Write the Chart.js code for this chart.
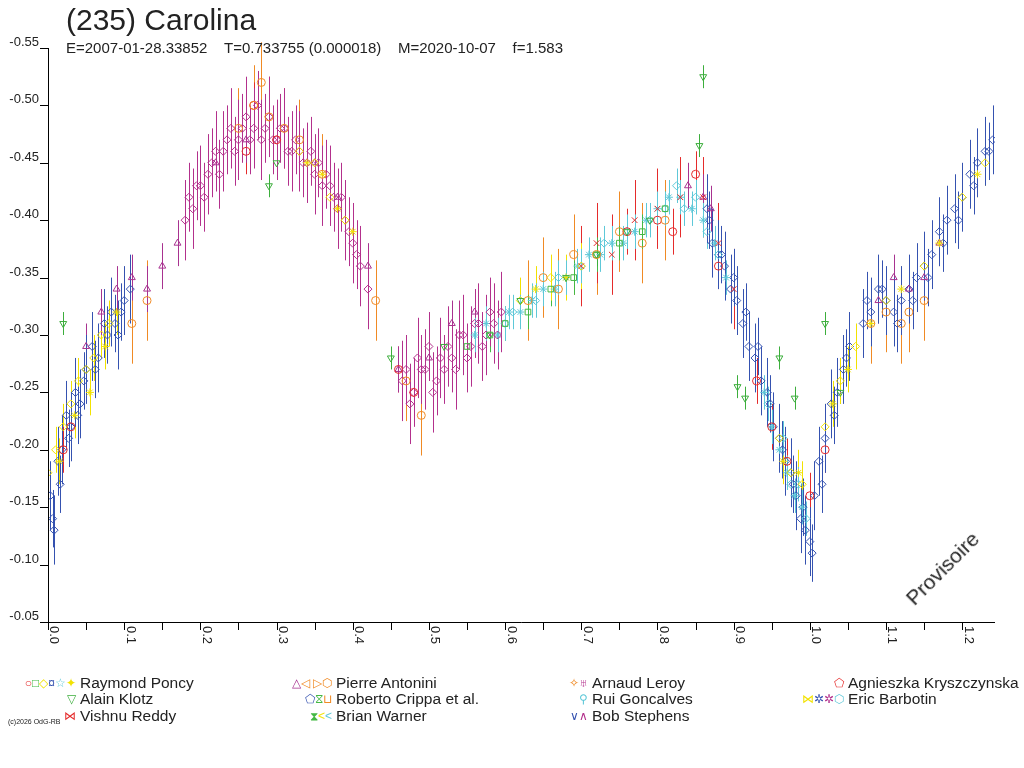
<!DOCTYPE html>
<html><head><meta charset="utf-8">
<script src="https://cdn.jsdelivr.net/npm/chart.js@4/dist/chart.umd.min.js"></script>
<style>
  body { margin:0; background:#fff; font-family:"Liberation Sans",Arial,sans-serif; color:#222; }
  #wrap { position:relative; width:1024px; height:768px; }
  #c { position:absolute; left:0; top:0; }
  .t { position:absolute; white-space:nowrap; }
  .lg { position:absolute; font-size:15.5px; white-space:nowrap; }
  .sym { position:absolute; font-size:12px; white-space:nowrap; text-align:right; }
</style></head>
<body><div id="wrap">
<canvas id="c" width="1024" height="768"></canvas>
<div class="t" style="left:66px;top:3px;font-size:30px">(235) Carolina</div>
<div class="t" style="left:66px;top:39px;font-size:15px">E=2007-01-28.33852&nbsp;&nbsp;&nbsp;&nbsp;T=0.733755 (0.000018)&nbsp;&nbsp;&nbsp;&nbsp;M=2020-10-07&nbsp;&nbsp;&nbsp;&nbsp;f=1.583</div>
<div class="t" style="left:918px;top:586px;font-size:21px;transform:rotate(-45deg);transform-origin:left bottom">Provisoire</div>
<div id="legend"></div>
<div class="t" style="left:8px;top:718px;font-size:7px">(c)2026 OdG-RB</div>
</div>
<script>
// ── observers: phases, magnitudes ──
const blueX = [0.003,0.008,0.013,0.018,0.024,0.03,0.036,0.042,0.05,0.058,0.066,0.074,0.083,0.092,0.1,0.108,
  0.865,0.872,0.88,0.888,0.896,0.904,0.912,0.92,0.928,0.936,0.944,0.952,0.96,0.968,0.975,0.982,0.988,0.994,1.0,1.006,1.012,1.02,1.028,1.036,1.044,1.052,
  1.07,1.08,1.09,1.1,1.11,1.12,1.13,1.14,1.15,1.16,1.17,1.18,1.19,1.2,1.21,1.22,1.23,1.24];
const blueY = [-0.16,-0.13,-0.19,-0.2,-0.23,-0.22,-0.25,-0.24,-0.27,-0.29,-0.28,-0.31,-0.32,-0.30,-0.33,-0.34,
  -0.41,-0.38,-0.37,-0.36,-0.34,-0.33,-0.31,-0.29,-0.28,-0.26,-0.25,-0.22,-0.21,-0.19,-0.18,-0.16,-0.14,-0.13,-0.12,-0.16,-0.19,-0.21,-0.24,-0.25,-0.27,-0.29,
  -0.31,-0.32,-0.34,-0.33,-0.32,-0.33,-0.34,-0.35,-0.36,-0.37,-0.39,-0.40,-0.41,-0.42,-0.44,-0.45,-0.46,-0.47];
const blue2X = [0.006,0.016,0.027,0.039,0.047,0.062,0.078,0.088,0.096,
  0.868,0.884,0.9,0.916,0.932,0.948,0.964,0.978,0.991,1.003,1.016,1.032,1.048,
  1.075,1.095,1.115,1.135,1.155,1.175,1.195,1.215,1.235];
const blue2Y = [-0.14,-0.17,-0.21,-0.23,-0.26,-0.27,-0.30,-0.31,-0.32,
  -0.40,-0.37,-0.35,-0.32,-0.29,-0.24,-0.20,-0.17,-0.15,-0.11,-0.17,-0.23,-0.28,
  -0.33,-0.34,-0.31,-0.33,-0.35,-0.38,-0.40,-0.43,-0.46];
const magX = [0.18,0.19,0.2,0.21,0.22,0.23,0.24,0.25,0.26,0.27,0.28,0.29,0.3,0.31,0.32,0.33,0.34,0.35,0.36,0.37,0.38,0.39,0.4,0.41,0.42,
  0.465,0.475,0.485,0.495,0.505,0.515,0.525,0.535,0.545,0.555,0.565,0.575,0.585,0.595];
const magY = [-0.40,-0.41,-0.43,-0.44,-0.46,-0.46,-0.48,-0.47,-0.49,-0.48,-0.47,-0.49,-0.47,-0.48,-0.46,-0.46,-0.45,-0.44,-0.43,-0.43,-0.41,-0.40,-0.38,-0.36,-0.34,
  -0.26,-0.24,-0.28,-0.27,-0.25,-0.28,-0.29,-0.27,-0.30,-0.29,-0.31,-0.30,-0.31,-0.32];
const mag2X = [0.185,0.195,0.205,0.215,0.225,0.235,0.245,0.255,0.265,0.275,0.285,0.295,0.305,0.315,0.325,0.335,0.345,0.355,0.365,0.375,0.385,0.395,0.405,
  0.47,0.48,0.49,0.5,0.51,0.52,0.53,0.54,0.55,0.56,0.57,0.58,0.59];
const mag2Y = [-0.42,-0.43,-0.42,-0.45,-0.44,-0.47,-0.46,-0.48,-0.47,-0.50,-0.48,-0.47,-0.48,-0.46,-0.47,-0.45,-0.46,-0.45,-0.44,-0.42,-0.42,-0.39,-0.37,
  -0.27,-0.25,-0.27,-0.29,-0.26,-0.27,-0.28,-0.30,-0.28,-0.31,-0.29,-0.32,-0.30];
const cyanX = [0.56,0.575,0.59,0.605,0.62,0.635,0.65,0.665,0.68,0.695,0.71,0.725,0.74,0.755,0.77,0.785,0.8,0.815,0.83,0.845,0.86,0.875,0.89,
  0.94,0.95,0.96,0.97,0.98,0.99];
const cyanY = [-0.30,-0.31,-0.30,-0.32,-0.32,-0.33,-0.34,-0.34,-0.35,-0.36,-0.37,-0.37,-0.38,-0.38,-0.39,-0.40,-0.41,-0.42,-0.42,-0.41,-0.40,-0.38,-0.35,
  -0.25,-0.22,-0.20,-0.18,-0.16,-0.15];
const cyan2X = [0.6,0.61,0.64,0.67,0.7,0.73,0.76,0.79,0.81,0.825,0.835,0.85,0.865,0.88,0.945,0.965,0.975,0.985,0.995];
const cyan2Y = [-0.31,-0.32,-0.33,-0.35,-0.36,-0.38,-0.39,-0.40,-0.41,-0.43,-0.41,-0.42,-0.39,-0.37,-0.24,-0.21,-0.17,-0.17,-0.14];
const yellowX = [0.0,0.01,0.02,0.03,0.04,0.05,0.06,0.07,0.08,0.33,0.35,0.37,0.39,0.62,0.66,0.70,0.96,0.975,0.99,1.02,1.04,1.06,1.1,1.15,1.2,1.23];
const yellowY = [-0.18,-0.20,-0.22,-0.24,-0.26,-0.27,-0.28,-0.30,-0.31,-0.46,-0.45,-0.42,-0.40,-0.33,-0.35,-0.36,-0.21,-0.18,-0.17,-0.22,-0.26,-0.29,-0.33,-0.36,-0.42,-0.45];
const yellow2X = [0.015,0.035,0.055,0.075,0.09,0.34,0.36,0.38,0.4,0.64,0.68,0.965,0.985,1.03,1.05,1.08,1.12,1.17,1.22];
const yellow2Y = [-0.19,-0.23,-0.25,-0.29,-0.32,-0.45,-0.44,-0.41,-0.39,-0.34,-0.35,-0.19,-0.18,-0.24,-0.27,-0.31,-0.34,-0.38,-0.44];
const orangeX = [0.11,0.13,0.25,0.27,0.28,0.29,0.31,0.33,0.36,0.43,0.47,0.49,0.63,0.65,0.67,0.69,0.72,0.75,0.78,0.81,1.08,1.1,1.12,1.13,1.15];
const orangeY = [-0.31,-0.33,-0.48,-0.50,-0.52,-0.49,-0.48,-0.47,-0.44,-0.33,-0.26,-0.23,-0.33,-0.35,-0.34,-0.37,-0.37,-0.39,-0.38,-0.40,-0.31,-0.32,-0.31,-0.32,-0.33];
const purpleX = [0.05,0.07,0.09,0.11,0.13,0.15,0.17,0.22,0.26,0.35,0.38,0.42,0.46,0.5,0.53,0.56,0.84,0.86,0.87,1.09,1.11,1.13,1.15,1.17];
const purpleY = [-0.29,-0.32,-0.34,-0.35,-0.34,-0.36,-0.38,-0.45,-0.47,-0.45,-0.42,-0.36,-0.27,-0.28,-0.31,-0.32,-0.43,-0.42,-0.41,-0.33,-0.35,-0.34,-0.35,-0.38];
const klotzX = [0.02,0.29,0.3,0.45,0.52,0.58,0.62,0.68,0.72,0.76,0.79,0.855,0.86,0.905,0.915,0.96,0.98,1.02,1.04];
const klotzY = [-0.31,-0.43,-0.45,-0.28,-0.29,-0.30,-0.33,-0.35,-0.37,-0.39,-0.40,-0.465,-0.525,-0.255,-0.245,-0.28,-0.245,-0.31,-0.25];
const redX = [0.02,0.03,0.26,0.27,0.3,0.46,0.48,0.76,0.8,0.82,0.85,0.88,0.93,0.95,0.97,1.0,1.02];
const redY = [-0.20,-0.22,-0.46,-0.50,-0.47,-0.27,-0.25,-0.39,-0.40,-0.39,-0.44,-0.36,-0.26,-0.22,-0.19,-0.16,-0.20];
const reddyX = [0.7,0.72,0.74,0.77,0.8,0.83,0.86,0.88,0.9];
const reddyY = [-0.36,-0.38,-0.37,-0.40,-0.41,-0.42,-0.42,-0.38,-0.34];
const squareX = [0.55,0.58,0.6,0.63,0.66,0.69,0.72,0.75,0.78,0.81];
const squareY = [-0.29,-0.30,-0.31,-0.32,-0.34,-0.35,-0.37,-0.38,-0.39,-0.41];

const yTicks = [-0.55,-0.50,-0.45,-0.40,-0.35,-0.30,-0.25,-0.20,-0.15,-0.10,-0.05];
const xTicks = [0.0,0.1,0.2,0.3,0.4,0.5,0.6,0.7,0.8,0.9,1.0,1.1,1.2];

const pts = (xs, ys) => xs.map((x, i) => ({ x, y: ys[i] }));
const ds = (xs, ys, color, style, err, rot) => ({
  data: pts(xs, ys), borderColor: color, backgroundColor: 'transparent', pointStyle: style,
  pointRadius: 4, pointBorderWidth: 1, pointRotation: rot || 0, showLine: false, err
});

const datasets = [
  ds(orangeX, orangeY, '#f08a24', 'circle', 0.035),
  ds(reddyX, reddyY, '#e52b2b', 'crossRot', 0.035),
  ds(squareX, squareY, '#44b844', 'rect', 0.015),
  ds(klotzX, klotzY, '#3cae3c', 'triangle', 0.01, 180),
  ds(yellowX, yellowY, '#f2e200', 'rectRot', 0.02),
  ds(yellow2X, yellow2Y, '#f2e200', 'star', 0.02),
  ds(redX, redY, '#e52b2b', 'circle', 0.02),
  ds(purpleX, purpleY, '#a83290', 'triangle', 0.02),
  ds(magX, magY, '#b3308c', 'rectRot', 0.035),
  ds(mag2X, mag2Y, '#b3308c', 'rectRot', 0.03),
  ds(cyanX, cyanY, '#5ec8d8', 'star', 0.015),
  ds(cyan2X, cyan2Y, '#5ec8d8', 'rectRot', 0.015),
  ds(blueX, blueY, '#3552b0', 'rectRot', 0.03),
  ds(blue2X, blue2Y, '#3552b0', 'rectRot', 0.025)
];

// error bars + hand-made axes in the old-style plot look
const decor = {
  id: 'decor',
  beforeDatasetsDraw(chart) {
    const { ctx, scales: { x, y } } = chart;
    ctx.save(); ctx.lineWidth = 1;
    chart.data.datasets.forEach(d => {
      ctx.strokeStyle = d.borderColor;
      d.data.forEach(p => {
        const px = Math.round(x.getPixelForValue(p.x)) + 0.5;
        ctx.beginPath();
        ctx.moveTo(px, y.getPixelForValue(p.y - d.err));
        ctx.lineTo(px, y.getPixelForValue(p.y + d.err));
        ctx.stroke();
      });
    });
    ctx.restore();
  },
  afterDraw(chart) {
    const { ctx, chartArea: a, scales: { x, y } } = chart;
    ctx.save();
    ctx.strokeStyle = '#000'; ctx.fillStyle = '#222'; ctx.lineWidth = 1;
    ctx.beginPath();
    ctx.moveTo(a.left + 0.5, a.top); ctx.lineTo(a.left + 0.5, a.bottom + 0.5); ctx.lineTo(a.right, a.bottom + 0.5);
    ctx.stroke();
    ctx.font = '13px "Liberation Sans", Arial, sans-serif';
    ctx.textAlign = 'right'; ctx.textBaseline = 'bottom';
    yTicks.forEach(v => {
      const py = Math.round(y.getPixelForValue(v)) + 0.5;
      ctx.beginPath(); ctx.moveTo(a.left - 8, py); ctx.lineTo(a.left, py); ctx.stroke();
      ctx.fillText(v.toFixed(2), a.left - 9, py);
    });
    for (let v = 0; v <= 1.25; v += 0.05) {
      const px = Math.round(x.getPixelForValue(v)) + 0.5;
      ctx.beginPath(); ctx.moveTo(px, a.bottom); ctx.lineTo(px, a.bottom + 8); ctx.stroke();
    }
    ctx.textAlign = 'left'; ctx.textBaseline = 'middle';
    xTicks.forEach(v => {
      const px = x.getPixelForValue(v);
      ctx.save(); ctx.translate(px + 6, a.bottom + 4); ctx.rotate(Math.PI / 2);
      ctx.fillText(v.toFixed(1), 0, 0); ctx.restore();
    });
    ctx.restore();
  }
};

new Chart(document.getElementById('c'), {
  type: 'scatter',
  data: { datasets },
  plugins: [decor],
  options: {
    responsive: false, animation: false,
    layout: { padding: { left: 48, right: 29, top: 48, bottom: 146 } },
    plugins: { legend: { display: false }, tooltip: { enabled: false } },
    scales: {
      x: { type: 'linear', min: 0, max: 1.243, display: false },
      y: { type: 'linear', min: -0.55, max: -0.05, reverse: true, display: false }
    }
  }
});

// legend as real text
const legendRows = [
  ['<span style="color:#e52b2b">○</span><span style="color:#44b844">□</span><span style="color:#f2e200">◇</span><span style="color:#3552b0">¤</span><span style="color:#5ec8d8">☆</span><span style="color:#f2e200">✦</span>', 'Raymond Poncy', 80, 683],
  ['<span style="color:#3cae3c">▽</span>', 'Alain Klotz', 80, 699],
  ['<span style="color:#e52b2b">⋈</span>', 'Vishnu Reddy', 80, 716],
  ['<span style="color:#a83290">△</span><span style="color:#f08a24">◁ ▷⬡</span>', 'Pierre Antonini', 336, 683],
  ['<span style="color:#3552b0">⬠</span><span style="color:#44b844">⧖</span><span style="color:#f08a24">⊔</span>', 'Roberto Crippa et al.', 336, 699],
  ['<span style="color:#44b844">⧗</span><span style="color:#f2e200">&lt;</span><span style="color:#5ec8d8">&lt;</span>', 'Brian Warner', 336, 716],
  ['<span style="color:#f08a24">✧</span><span style="color:#b3308c">♅</span>', 'Arnaud Leroy', 592, 683],
  ['<span style="color:#5ec8d8">⚲</span>', 'Rui Goncalves', 592, 699],
  ['<span style="color:#3552b0">∨</span><span style="color:#b3308c">∧</span>', 'Bob Stephens', 592, 716],
  ['<span style="color:#e52b2b">⬠</span>', 'Agnieszka Kryszczynska', 848, 683],
  ['<span style="color:#f2e200">⋈</span><span style="color:#3552b0">✲</span><span style="color:#b3308c">✲</span><span style="color:#5ec8d8">⬡</span>', 'Eric Barbotin', 848, 699]
];
document.getElementById('legend').innerHTML = legendRows.map(([s, n, x, y]) =>
  `<div class="sym" style="right:${1024 - x + 4}px;top:${y - 7}px">${s}</div>` +
  `<div class="lg" style="left:${x}px;top:${y - 9}px">${n}</div>`).join('');
</script>
</body></html>
